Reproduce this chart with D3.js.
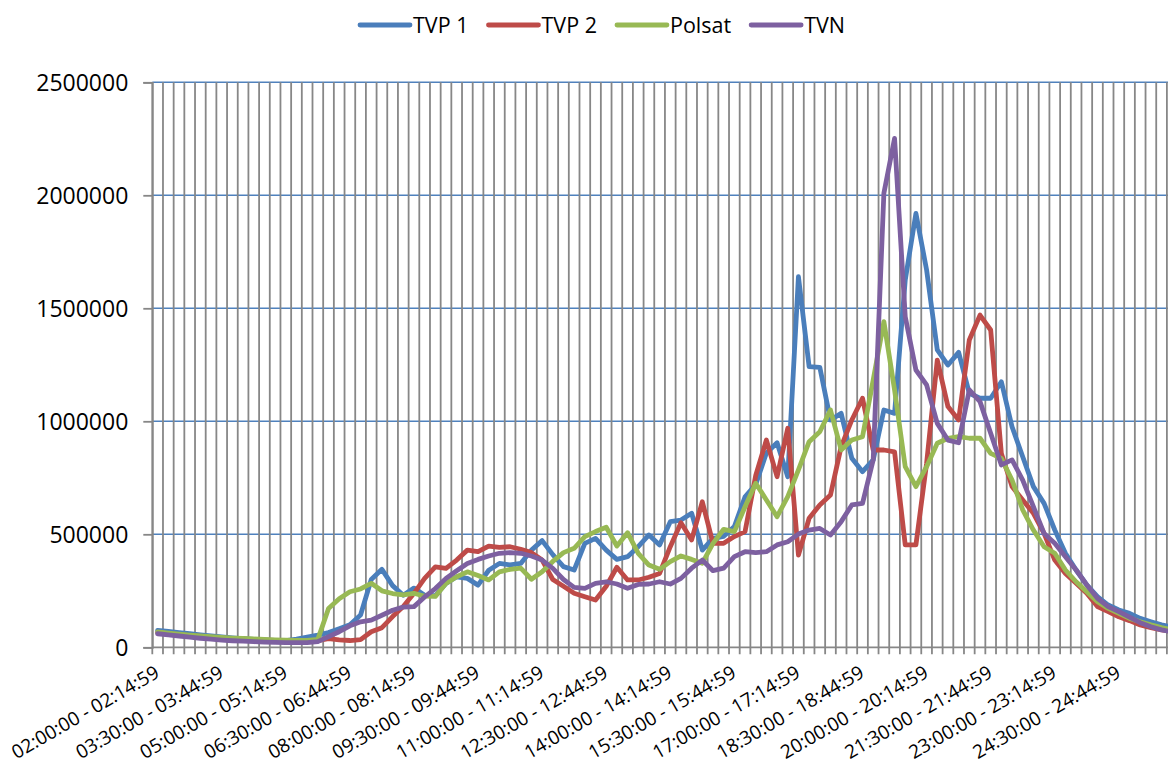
<!DOCTYPE html>
<meta charset="utf-8">
<script src="https://d3js.org/d3.v7.min.js"></script>
<body>
<div id="chart"></div>
<style>
  body { margin: 0; background: #fff; }
  svg text { font-family: 'Open Sans', sans-serif; fill: #000; }
</style>
<script>

// quarter-hour slots, 02:00 .. 25:45 (the picture is cut after 25:30)
var slots = [];
for (var m = 120; m < 120 + 96 * 15; m += 15) {
  var p = function(v) { return (v < 10 ? "0" : "") + v; };
  var h = Math.floor(m / 60), mm = m % 60;
  slots.push(p(h) + ":" + p(mm) + ":00 - " + p(h) + ":" + p(mm + 14) + ":59");
}

// every 6th slot gets a label
var labelSlots = slots.filter(function(d, i) { return i % 6 === 0; });
var yTicks = [0, 500000, 1000000, 1500000, 2000000, 2500000];

var seriesNames = ["TVP 1", "TVP 2", "Polsat", "TVN"];
var colors = ["#4a7ebb", "#be4b48", "#98b954", "#7d60a0"];

var tvp1 = [75000, 70000, 65000, 60000, 55000, 50000, 46000, 42000, 38000, 35000,
  32000, 30000, 30000, 36000, 45000, 54000, 65000, 82000, 100000, 143000,
  300000, 345000, 273000, 230000, 262000, 230000, 228000, 283000, 312000, 305000,
  275000, 341000, 371000, 365000, 371000, 430000, 472000, 410000, 357000, 342000,
  460000, 482000, 430000, 389000, 401000, 445000, 497000, 453000, 556000, 563000,
  593000, 430000, 482000, 491000, 534000, 666000, 720000, 860000, 905000, 755000,
  1640000, 1242000, 1239000, 1006000, 1035000, 836000, 777000, 829000, 1050000, 1035000,
  1625000, 1920000, 1670000, 1316000, 1249000, 1305000, 1124000, 1102000, 1102000, 1175000,
  976000, 843000, 711000, 637000, 519000, 416000, 342000, 276000, 224000, 187000,
  165000, 150000, 128000, 113000, 99000, 90000];

var tvp2 = [65000, 60000, 56000, 52000, 48000, 44000, 41000, 38000, 36000, 34000,
  32000, 30000, 28000, 27000, 27000, 30000, 38000, 33000, 30000, 34000,
  69000, 87000, 136000, 181000, 239000, 305000, 356000, 349000, 386000, 430000,
  423000, 448000, 442000, 445000, 434000, 419000, 386000, 300000, 270000, 239000,
  224000, 209000, 270000, 354000, 298000, 298000, 310000, 327000, 445000, 551000,
  475000, 644000, 460000, 460000, 490000, 512000, 760000, 917000, 755000, 969000,
  408000, 571000, 630000, 674000, 888000, 1006000, 1102000, 873000, 873000, 865000,
  453000, 453000, 814000, 1271000, 1065000, 1006000, 1360000, 1470000, 1404000, 858000,
  711000, 652000, 593000, 504000, 386000, 327000, 283000, 239000, 180000, 158000,
  135000, 118000, 99000, 87000, 77000, 70000];

var polsat = [68000, 63000, 58000, 54000, 50000, 47000, 44000, 41000, 39000, 37000,
  35000, 33000, 32000, 31000, 31000, 35000, 172000, 215000, 246000, 258000,
  283000, 250000, 238000, 232000, 239000, 226000, 225000, 283000, 312000, 334000,
  318000, 298000, 334000, 345000, 350000, 301000, 334000, 380000, 419000, 438000,
  490000, 512000, 531000, 448000, 507000, 416000, 364000, 345000, 379000, 404000,
  389000, 372000, 460000, 522000, 512000, 622000, 726000, 652000, 578000, 667000,
  785000, 910000, 954000, 1050000, 873000, 917000, 932000, 1183000, 1441000, 1139000,
  799000, 711000, 799000, 903000, 925000, 932000, 925000, 925000, 858000, 836000,
  740000, 608000, 519000, 445000, 416000, 342000, 290000, 246000, 202000, 172000,
  150000, 128000, 113000, 99000, 87000, 78000];

var tvn = [60000, 55000, 50000, 45000, 40000, 36000, 32000, 29000, 27000, 25000,
  23000, 22000, 21000, 21000, 21000, 25000, 47000, 69000, 95000, 113000,
  120000, 142000, 164000, 178000, 180000, 223000, 260000, 305000, 339000, 371000,
  389000, 404000, 416000, 419000, 416000, 404000, 386000, 349000, 300000, 265000,
  261000, 283000, 290000, 280000, 261000, 278000, 280000, 290000, 280000, 305000,
  350000, 386000, 339000, 350000, 401000, 423000, 419000, 423000, 453000, 467000,
  501000, 519000, 526000, 497000, 556000, 630000, 637000, 829000, 2009000, 2252000,
  1463000, 1227000, 1161000, 991000, 917000, 905000, 1139000, 1087000, 947000, 807000,
  829000, 740000, 622000, 504000, 460000, 401000, 342000, 276000, 217000, 180000,
  158000, 133000, 109000, 91000, 77000, 68000];

var series = [tvp1, tvp2, polsat, tvn];

// plot frame
var plotLeft = 152.3, plotTop = 82.3, plotBottom = 647.3, step = 10.68;
var W = 1168, H = 769;

var svg = d3.select("#chart").append("svg")
  .attr("width", W)
  .attr("height", H);

var x = d3.scaleBand()
  .domain(slots)
  .range([plotLeft, plotLeft + slots.length * step])
  .padding(0);

var y = d3.scaleLinear()
  .domain([0, 2500000])
  .range([plotBottom, plotTop]);

// horizontal grid (blue)
svg.append("g")
  .selectAll("line")
  .data(yTicks.slice(1))
  .join("line")
    .attr("x1", plotLeft).attr("x2", W)
    .attr("y1", function(d) { return y(d); })
    .attr("y2", function(d) { return y(d); })
    .attr("stroke", "#4f81bd")
    .attr("stroke-width", 1.6);

// vertical grid on every slot boundary, running down as tick marks
var bounds = slots.map(function(d) { return x(d); }).concat([x.range()[1]]);
svg.append("g")
  .selectAll("line")
  .data(bounds)
  .join("line")
    .attr("x1", function(d) { return d; })
    .attr("x2", function(d) { return d; })
    .attr("y1", plotTop)
    .attr("y2", plotBottom + 7)
    .attr("stroke", "#878787")
    .attr("stroke-width", 1.8);

// bottom axis line
svg.append("line")
  .attr("x1", plotLeft).attr("x2", W)
  .attr("y1", plotBottom).attr("y2", plotBottom)
  .attr("stroke", "#878787")
  .attr("stroke-width", 1.8);

// Y axis
var yAxis = svg.append("g")
  .attr("transform", "translate(" + plotLeft + ",0)")
  .call(d3.axisLeft(y).tickValues(yTicks).tickSize(9).tickPadding(15).tickFormat(d3.format("d")));
yAxis.select(".domain").attr("stroke", "#878787").attr("stroke-width", 1.8);
yAxis.selectAll(".tick line").attr("stroke", "#878787").attr("stroke-width", 1.8);
yAxis.selectAll("text").style("font-size", "23px").attr("dy", "0.36em");

// X axis labels, slanted
var xAxis = svg.append("g")
  .attr("transform", "translate(0," + plotBottom + ")")
  .call(d3.axisBottom(x).tickValues(labelSlots).tickSize(0));
xAxis.select(".domain").remove();
xAxis.selectAll("text")
  .style("font-size", "19px")
  .attr("text-anchor", "end")
  .attr("y", 0).attr("dy", 0)
  .attr("transform", "translate(3,29) rotate(-30)");

// series lines
var line = d3.line()
  .x(function(d, i) { return x(slots[i]) + x.bandwidth() / 2; })
  .y(function(d) { return y(d); });

svg.append("g")
  .selectAll("path")
  .data(series)
  .join("path")
    .attr("d", line)
    .attr("fill", "none")
    .attr("stroke", function(d, i) { return colors[i]; })
    .attr("stroke-width", 4.8)
    .attr("stroke-linejoin", "round")
    .attr("stroke-linecap", "round");

// legend on top
var legend = svg.append("g");
var lx = 360;
seriesNames.forEach(function(name, i) {
  legend.append("line")
    .attr("x1", lx).attr("x2", lx + 50)
    .attr("y1", 25).attr("y2", 25)
    .attr("stroke", colors[i])
    .attr("stroke-width", 4.8)
    .attr("stroke-linecap", "round");
  var t = legend.append("text")
    .attr("x", lx + 53).attr("y", 33)
    .style("font-size", "21.5px")
    .text(name);
  lx += 53 + t.node().getComputedTextLength() + 20;
});

</script>
</body>
